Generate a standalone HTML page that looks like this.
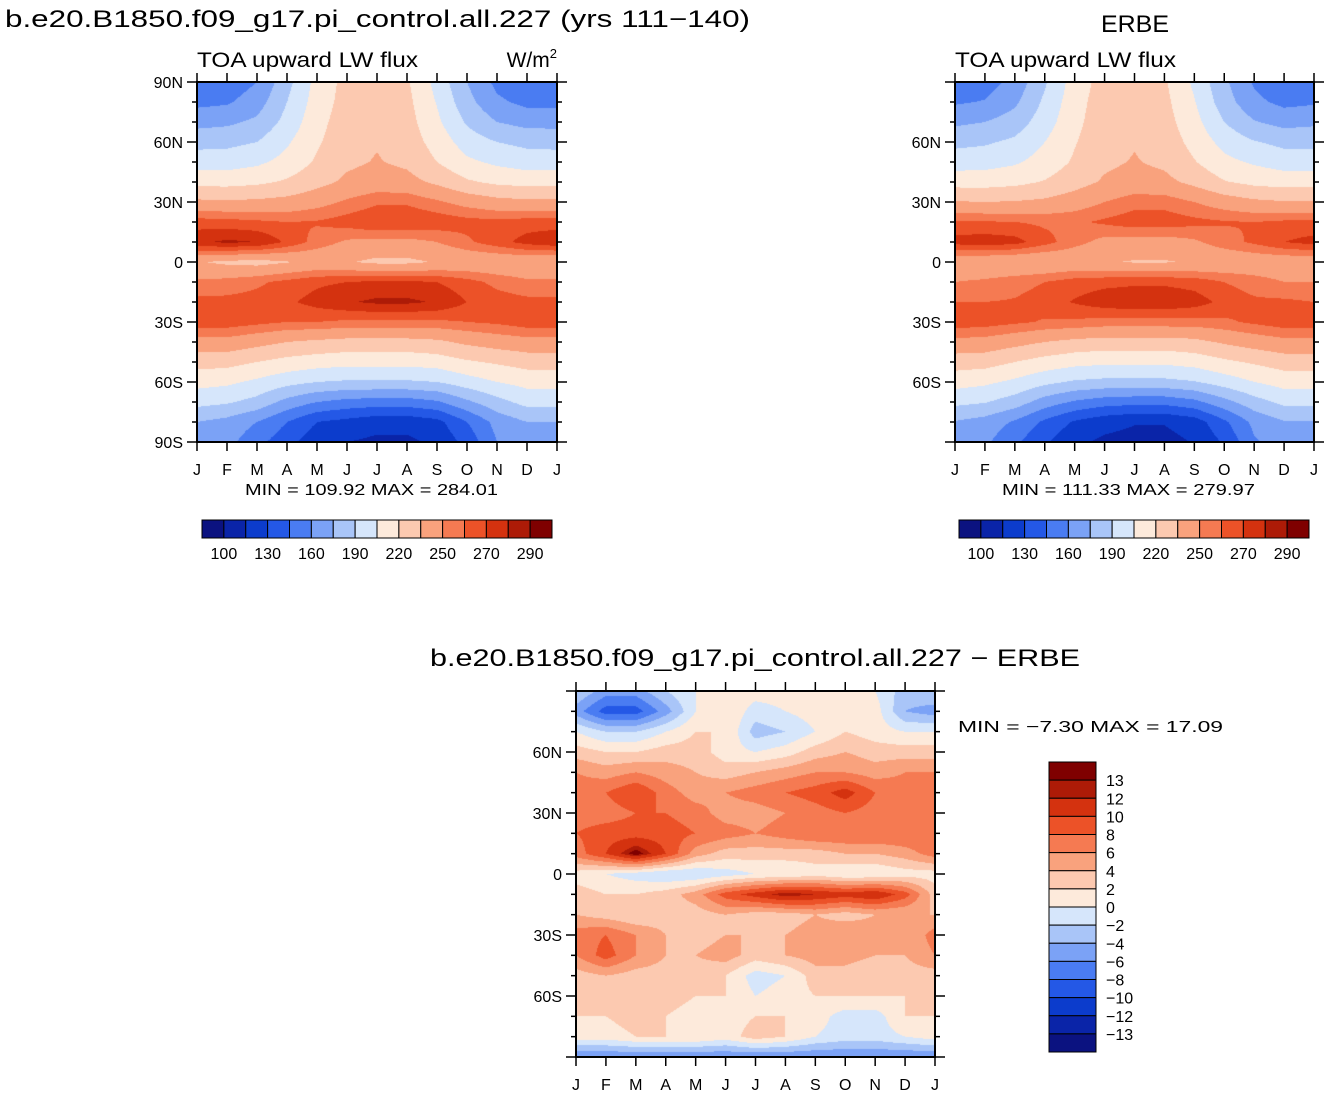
<!DOCTYPE html>
<html><head><meta charset="utf-8">
<style>
body{margin:0;width:1331px;height:1096px;background:#fff;position:relative;overflow:hidden;font-family:"Liberation Sans",sans-serif}
canvas{position:absolute}
svg{position:absolute;left:0;top:0}
text{font-family:"Liberation Sans",sans-serif;fill:#000}
</style></head><body>
<canvas id="c1" width="360" height="360" style="left:197px;top:82px"></canvas>
<canvas id="c2" width="359" height="360" style="left:955px;top:82px"></canvas>
<canvas id="c3" width="359" height="366" style="left:576px;top:691px"></canvas>
<svg id="ov" width="1331" height="1096"></svg>
<script>
const months=["J","F","M","A","M","J","J","A","S","O","N","D","J"];
const latLabelsFull=["90N","60N","30N","0","30S","60S","90S"];
const latLabelsShort=["","60N","30N","0","30S","60S",""];
const topLevels=[100,115,130,145,160,175,190,205,220,235,250,260,270,280,290];
const topLevelLabels=["100","","130","","160","","190","","220","","250","","270","","290"];
const diffLevels=[-13,-12,-10,-8,-6,-4,-2,0,2,4,6,8,10,12,13];
const diffLevelLabels=["−13","−12","−10","−8","−6","−4","−2","0","2","4","6","8","10","12","13"];
const palette=["#0b1280","#0a24a8","#0c3ccc","#2458e6","#4a7cf2","#7ba2f6","#a9c5f8","#d6e6fb","#fdeadb","#fcc9b0","#f9a27d","#f57a52","#ec5228","#d4320f","#ad1b07","#7f0000"];
const modelValues=[
[146,150,160,185,210,225,228,222,200,175,156,146,146],
[156,158,168,190,212,226,230,224,204,180,163,156,156],
[170,172,178,195,215,228,232,226,208,188,175,170,170],
[185,186,190,203,218,230,234,228,214,198,190,186,185],
[198,198,202,210,222,232,236,232,220,208,202,198,198],
[215,215,217,222,230,238,242,240,232,222,217,215,215],
[238,237,238,240,245,252,258,258,252,245,240,238,238],
[265,264,262,260,261,265,270,270,267,264,263,265,265],
[278,282,280,268,256,248,246,246,250,258,266,274,278],
[236,232,230,234,238,236,232,232,236,238,238,238,236],
[252,254,258,263,268,270,272,272,270,264,257,252,252],
[263,263,264,268,274,279,282,282,279,270,265,263,263],
[266,266,263,260,260,258,258,258,258,260,262,266,266],
[245,245,240,235,232,230,230,230,232,238,242,245,245],
[226,225,220,215,212,210,210,210,212,218,222,226,226],
[210,208,202,195,190,188,188,188,190,198,205,210,210],
[195,192,185,170,160,155,153,153,158,172,185,195,195],
[175,170,160,145,130,125,120,120,125,145,165,175,175],
[170,165,150,135,120,115,112,112,118,135,160,170,170]];
const erbeValues=[
[148,153,165,188,212,226,228,222,202,178,158,146,148],
[158,161,172,193,214,228,230,224,206,182,164,156,158],
[172,175,182,198,216,229,232,226,210,190,176,170,172],
[186,188,193,205,219,230,234,229,215,200,191,186,186],
[198,199,203,211,222,232,236,232,221,209,203,198,198],
[214,214,216,221,229,237,241,239,231,221,216,214,214],
[236,235,236,238,243,250,256,256,250,243,238,236,236],
[262,261,260,258,258,262,266,266,263,261,260,262,262],
[274,276,274,264,254,246,244,244,248,256,262,270,274],
[240,238,236,236,238,236,234,234,236,238,240,240,240],
[250,252,256,260,265,267,268,268,266,260,255,250,250],
[260,260,261,265,271,276,278,278,275,267,262,262,260],
[266,265,262,259,258,256,256,256,256,258,262,266,266],
[246,245,240,235,231,229,229,229,231,237,242,246,246],
[227,226,220,214,210,208,208,208,211,217,222,227,227],
[211,208,202,194,188,186,186,186,189,197,205,211,211],
[194,191,183,168,158,152,150,150,156,170,184,194,194],
[174,169,158,142,128,120,116,116,122,142,164,174,174],
[168,163,148,132,118,112,110,110,116,132,158,168,168]];
const diffValues=[
[-2,-5,-5,-2,0,1,1,1,1,0,0,-3,-2],
[-5,-9,-9,-5,0,2,-1,0,1,1,1,-4,-5],
[0,-2,-2,0,2,2,-3,-2,0,2,1,0,0],
[3,2,2,3,3,1,0,1,3,4,3,3,3],
[6,5,6,5,4,3,4,5,6,6,5,6,6],
[7,8,10,7,5,6,7,8,9,11,8,7,7],
[7,7,8,8,7,5,5,6,7,8,7,7,7],
[8,9,9,9,8,7,6,7,8,8,8,8,8],
[7,10,14,10,5,3,3,3,3,4,4,5,7],
[1,0,-1,-2,-2,-1,0,0,1,0,0,1,1],
[3,2,2,3,5,9,11,13,12,11,12,9,3],
[4,3,2,3,3,4,3,3,4,3,4,4,4],
[7,8,6,4,3,4,4,4,5,6,5,4,7],
[6,9,6,4,4,5,3,4,5,5,4,4,6],
[3,4,3,3,3,2,-1,0,3,3,2,3,3],
[3,3,4,3,2,2,0,1,2,2,2,2,3],
[2,2,3,2,1,1,2,2,1,-1,-1,2,2],
[1,1,2,2,2,1,3,2,0,-1,-1,0,1],
[-6,-6,-6,-6,-6,-6,-6,-6,-6,-6,-6,-6,-6]];

function hex(h){return [parseInt(h.substr(1,2),16),parseInt(h.substr(3,2),16),parseInt(h.substr(5,2),16)];}
const rgb=palette.map(hex);
function drawField(id,vals,levels){
  const c=document.getElementById(id),ctx=c.getContext('2d'),W=c.width,H=c.height;
  const img=ctx.createImageData(W,H);const nx=vals[0].length-1,ny=vals.length-1;
  for(let y=0;y<H;y++){const fy=(y+0.5)/H*ny,j=Math.min(Math.floor(fy),ny-1),ty=fy-j;
    for(let x=0;x<W;x++){const fx=(x+0.5)/W*nx,i=Math.min(Math.floor(fx),nx-1),tx=fx-i;
      const v=(vals[j][i]*(1-tx)+vals[j][i+1]*tx)*(1-ty)+(vals[j+1][i]*(1-tx)+vals[j+1][i+1]*tx)*ty;
      let k=0;while(k<levels.length&&v>=levels[k])k++;
      const col=rgb[k],p=(y*W+x)*4;img.data[p]=col[0];img.data[p+1]=col[1];img.data[p+2]=col[2];img.data[p+3]=255;}}
  ctx.putImageData(img,0,0);
}
drawField('c1',modelValues,topLevels);
drawField('c2',erbeValues,topLevels);
drawField('c3',diffValues,diffLevels);

const NS="http://www.w3.org/2000/svg",ov=document.getElementById('ov');
function el(tag,attrs,txt){const e=document.createElementNS(NS,tag);for(const k in attrs)e.setAttribute(k,attrs[k]);if(txt!==undefined)e.textContent=txt;ov.appendChild(e);return e;}
function txt(x,y,s,size,anchor,name,len){const a={x:x,y:y,'font-size':size,'text-anchor':anchor||'start'};
  if(len){a.textLength=len;a.lengthAdjust='spacingAndGlyphs';}
  const t=el('text',a,s);
  
  return t;}
function axes(x0,y0,w,h,latLabels,topTicks,name){
  const r=el('rect',{x:x0,y:y0,width:w,height:h,fill:'none',stroke:'#000','stroke-width':2});
  
  
  for(let k=0;k<=18;k++){const y=y0+k*h/18,len=(k%3===0)?10:5;
    el('line',{x1:x0-len,y1:y,x2:x0,y2:y,stroke:'#000','stroke-width':1.5});
    el('line',{x1:x0+w,y1:y,x2:x0+w+len,y2:y,stroke:'#000','stroke-width':1.5});}
  latLabels.forEach((s,k)=>{if(s)txt(x0-14,y0+k*h/6+6,s,16,'end',name+'-lat-label');});
  months.forEach((m,k)=>{const x=x0+k*w/12;
    el('line',{x1:x,y1:y0+h,x2:x,y2:y0+h+9,stroke:'#000','stroke-width':1.5});
    if(topTicks)el('line',{x1:x,y1:y0,x2:x,y2:y0-9,stroke:'#000','stroke-width':1.5});
    txt(x,y0+h+33,m,16,'middle',name+'-month-label');});
}
axes(197,82,360,360,latLabelsFull,true,'model');
axes(955,82,359,360,latLabelsShort,true,'erbe');
axes(576,691,359,366,latLabelsShort,true,'diff');

function hbar(x0,y0,w,h,name){const n=palette.length,bw=w/n;
  palette.forEach((c,k)=>{const r=el('rect',{x:x0+k*bw,y:y0,width:bw,height:h,fill:c,stroke:'#000','stroke-width':1});
    
    });
  topLevelLabels.forEach((s,k)=>{if(s)txt(x0+(k+1)*bw,y0+h+21,s,16,'middle',name+'-label');});}
hbar(202,520,350,18,'model-colorbar');
hbar(959,520,350,18,'erbe-colorbar');
(function(){const x0=1049,y0=762,w=47,h=290,n=palette.length,bh=h/n;
  for(let k=0;k<n;k++){const r=el('rect',{x:x0,y:y0+k*bh,width:w,height:bh,fill:palette[n-1-k],stroke:'#000','stroke-width':1});
    
    }
  for(let k=0;k<diffLevelLabels.length;k++)txt(x0+57,y0+(k+1)*bh+6,diffLevelLabels[diffLevelLabels.length-1-k],16,'start','diff-colorbar-label');
})();

txt(5,27,"b.e20.B1850.f09_g17.pi_control.all.227 (yrs 111−140)",24,'start','model-title',745);
txt(197,67,"TOA upward LW flux",21,'start','model-subtitle',221);
const u=txt(557,67,"W/m",21,'end','units-label');
const sup=el('tspan',{'font-size':13,dy:-9},"2");
txt(1101,32,"ERBE",24,'start','erbe-title',68);
txt(955,67,"TOA upward LW flux",21,'start','erbe-subtitle',221);
txt(245,495,"MIN = 109.92 MAX = 284.01",16,'start','model-minmax',253);
txt(1002,495,"MIN = 111.33 MAX = 279.97",16,'start','erbe-minmax',253);
txt(430,666,"b.e20.B1850.f09_g17.pi_control.all.227 − ERBE",24,'start','diff-title',650);
txt(958,732,"MIN =   −7.30 MAX =   17.09",16,'start','diff-minmax',265);
</script>
<script>
(function(){const ov=document.getElementById('ov');const ts=ov.querySelectorAll('text');let u=null;ts.forEach(t=>{if(t.textContent==="W/m")u=t;});
const sp=ov.querySelector('tspan');if(u&&sp){sp.parentNode.removeChild(sp);u.appendChild(sp);}})();
</script>
</body></html>
